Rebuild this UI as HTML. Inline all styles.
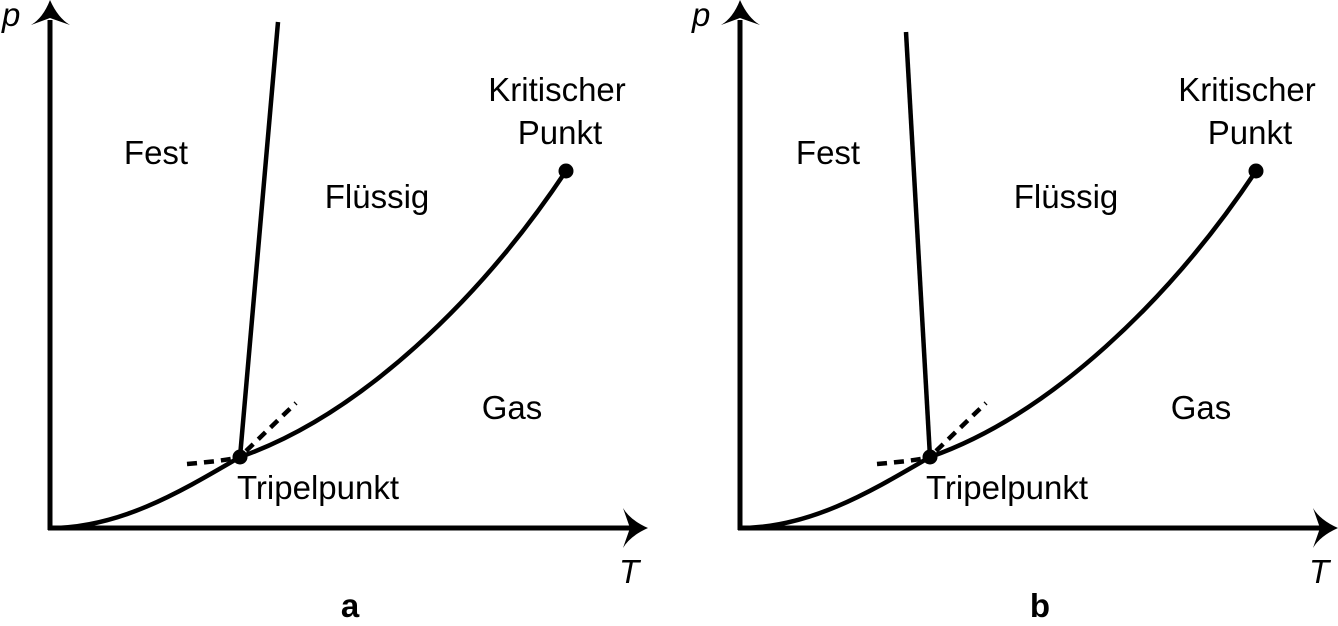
<!DOCTYPE html>
<html><head><meta charset="utf-8"><style>
html,body{margin:0;padding:0;background:#fff;}
svg text{font-family:"Liberation Sans",sans-serif;font-size:33px;fill:#000;}
</style></head><body>
<svg width="1338" height="621" viewBox="0 0 1338 621" xmlns="http://www.w3.org/2000/svg">
<defs>
<g id="ax">
  <line x1="50" y1="20" x2="50" y2="530" stroke="#000" stroke-width="5"/>
  <line x1="48" y1="528" x2="630" y2="528" stroke="#000" stroke-width="5"/>
  <path d="M50,0 Q58,18 70,25 L50,18 L31,25 Q43,18 50,0Z" fill="#000"/>
  <path d="M648,528 Q630,536 623,548 L630,528 L623,508 Q630,520 648,528Z" fill="#000"/>
  <path d="M50,528 C120,528 180,492 240,457 C360,415 480,300 566,171" fill="none" stroke="#000" stroke-width="4.5"/>
  <path d="M187,464 C210,462 228,460 240,457" fill="none" stroke="#000" stroke-width="4.5" stroke-dasharray="10,7"/>
  <path d="M246,451 L296,403" fill="none" stroke="#000" stroke-width="4.5" stroke-dasharray="10,7"/>
  <circle cx="240" cy="457" r="7.5" fill="#000"/>
  <circle cx="566" cy="171" r="7.5" fill="#000"/>
</g>
</defs>
<use href="#ax"/>
<line x1="240" y1="457" x2="278" y2="22" stroke="#000" stroke-width="4.5"/>
<g transform="translate(690,0)"><use href="#ax"/></g>
<line x1="930" y1="457" x2="906" y2="32" stroke="#000" stroke-width="4.5"/>

<text x="2" y="26" font-style="italic">p</text>
<text x="156" y="164" text-anchor="middle">Fest</text>
<text x="377" y="208" text-anchor="middle">Flüssig</text>
<text x="512" y="419" text-anchor="middle">Gas</text>
<text x="557" y="101" text-anchor="middle">Kritischer</text>
<text x="560" y="144" text-anchor="middle">Punkt</text>
<text x="318" y="499" text-anchor="middle">Tripelpunkt</text>
<text x="619" y="583" font-style="italic">T</text>
<text x="350" y="617" text-anchor="middle" font-weight="bold">a</text>

<text x="692" y="26" font-style="italic">p</text>
<text x="828" y="164" text-anchor="middle">Fest</text>
<text x="1066" y="208" text-anchor="middle">Flüssig</text>
<text x="1201" y="419" text-anchor="middle">Gas</text>
<text x="1247" y="101" text-anchor="middle">Kritischer</text>
<text x="1250" y="144" text-anchor="middle">Punkt</text>
<text x="1007" y="499" text-anchor="middle">Tripelpunkt</text>
<text x="1309" y="583" font-style="italic">T</text>
<text x="1040" y="617" text-anchor="middle" font-weight="bold">b</text>
</svg>
</body></html>
